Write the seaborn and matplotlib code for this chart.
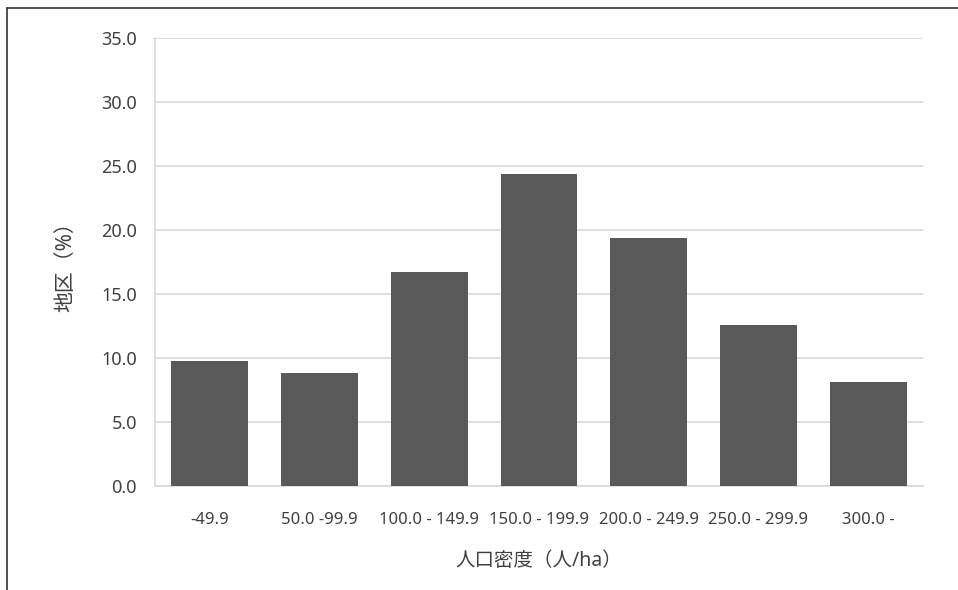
import pandas as pd
import matplotlib
matplotlib.use('Agg')
import matplotlib.pyplot as plt
import seaborn as sns
from matplotlib.lines import Line2D
from matplotlib.ticker import FormatStrFormatter

# データ
categories = ['-49.9', '50.0 -99.9', '100.0 - 149.9', '150.0 - 199.9',
              '200.0 - 249.9', '250.0 - 299.9', '300.0 -']
share = [9.8, 8.8, 16.7, 24.4, 19.4, 12.6, 8.1]
y_ticks = [0, 5, 10, 15, 20, 25, 30, 35]

df = pd.DataFrame({'密度': categories, '割合': share})

sns.set_style('white')
plt.rcParams['font.family'] = ['Noto Sans', 'Noto Sans CJK JP', 'DejaVu Sans']

fig = plt.figure(figsize=(9.58, 5.90), dpi=100)
ax = fig.add_axes([155 / 958, 104 / 590, 768 / 958, 448 / 590])

sns.barplot(x='密度', y='割合', data=df, color='#595959', width=0.7,
            saturation=1, ax=ax, zorder=3, linewidth=0)

ax.set_ylim(0, 35)
ax.set_yticks(y_ticks)
ax.yaxis.set_major_formatter(FormatStrFormatter('%.1f'))
ax.grid(axis='y', color='#d9d9d9', linewidth=1.2, zorder=0)
ax.set_axisbelow(True)

for side in ['top', 'right']:
    ax.spines[side].set_visible(False)
for side in ['left', 'bottom']:
    ax.spines[side].set_color('#d9d9d9')
    ax.spines[side].set_linewidth(1.2)

ax.tick_params(axis='y', length=0, labelsize=13, colors='#404040', pad=13)
ax.tick_params(axis='x', length=0, labelsize=12, colors='#404040', pad=19)

ax.set_xlabel('人口密度（人/ha）', fontsize=14, color='#404040', labelpad=16)
ax.set_ylabel('地区（%）', fontsize=15, color='#404040', labelpad=18)

# 外枠（左と上）
fig.add_artist(Line2D([7 / 958, 7 / 958], [0, 1 - 8 / 590],
                      transform=fig.transFigure, color='#333333', linewidth=1.2))
fig.add_artist(Line2D([7 / 958, 1], [1 - 8 / 590, 1 - 8 / 590],
                      transform=fig.transFigure, color='#333333', linewidth=1.2))

fig.savefig('out.png', dpi=100)
